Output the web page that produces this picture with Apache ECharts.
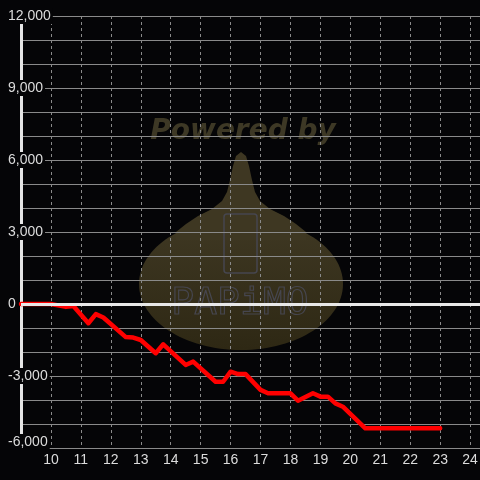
<!DOCTYPE html>
<html>
<head>
<meta charset="utf-8">
<script src="https://cdn.jsdelivr.net/npm/echarts@6/dist/echarts.min.js"></script>
<style>
html,body{margin:0;padding:0;background:#050507;}
#chart{width:480px;height:480px;}
</style>
</head>
<body>
<div id="chart"></div>
<script>
// Data (hours of day vs cumulative value)
const times  = [9, 10, 10.5, 10.75, 11.25, 11.5, 11.75, 12.5, 12.75, 13, 13.5, 13.75, 14.5, 14.75, 15.5, 15.75, 16, 16.25, 16.5, 17, 17.25, 18, 18.25, 18.75, 19, 19.25, 19.5, 19.75, 20.5, 23];
const values = [0, 0, -120, -80, -800, -420, -560, -1380, -1400, -1500, -2050, -1680, -2540, -2400, -3240, -3240, -2820, -2920, -2920, -3580, -3720, -3720, -4030, -3720, -3860, -3860, -4140, -4280, -5180, -5180];
const xTickLabels = [10, 11, 12, 13, 14, 15, 16, 17, 18, 19, 20, 21, 22, 23, 24];
const yTickLabels = [-6000, -3000, 0, 3000, 6000, 9000, 12000];
const watermarkTitle = 'Powered by';
const watermarkBrand = 'PAPiMO';

const seriesData = times.map((t, i) => [t, values[i]]);
const fmt = v => v.toLocaleString('en-US');

const chart = echarts.init(document.getElementById('chart'), null, {renderer: 'canvas'});
const wmFill = new echarts.graphic.LinearGradient(0, 0, 0, 1, [
  {offset: 0, color: '#3f3823'},
  {offset: 1, color: '#2e2814'}
]);
const neck = [[241,152],[236,156],[233,166],[230,180],[227,192],[222,201],[212,209],[198,216],[186,224],[176,232],[176,240],[306,240],[306,232],[296,224],[284,216],[270,209],[260,201],[255,192],[252,180],[249,166],[246,156]];
const option = {
  backgroundColor: '#050507',
  animation: false,
  grid: {left: 21, right: 0, top: 16, bottom: 32, outerBoundsMode: 'none', containLabel: false},
  graphic: [
    {type: 'text', z: -1, silent: true, style: {text: watermarkTitle, x: 243, y: 132, font: 'italic bold 28px "DejaVu Sans"', fill: '#3d3825', align: 'center', verticalAlign: 'middle'}},
    {type: 'ellipse', z: -1, silent: true, shape: {cx: 241, cy: 284, rx: 102, ry: 66}, style: {fill: wmFill}},
    {type: 'polygon', z: -1, silent: true, shape: {points: neck}, style: {fill: '#3e3722'}},
    {type: 'rect', z: -1, silent: true, shape: {x: 224, y: 214, width: 33, height: 59, r: 3}, style: {fill: 'none', stroke: '#46464f', lineWidth: 1.5}},
    {type: 'text', z: -1, silent: true, style: {text: watermarkBrand, x: 240, y: 304, font: '38px "DejaVu Sans Mono"', fill: 'none', stroke: '#46464f', lineWidth: 1.2, align: 'center', verticalAlign: 'middle'}}
  ],
  xAxis: {
    type: 'value',
    min: 9,
    max: 24.33,
    interval: 1,
    axisLine: {show: false},
    axisTick: {show: false},
    axisLabel: {
      color: '#dcdcdc', fontSize: 14, fontFamily: 'Liberation Sans', margin: 5,
      showMinLabel: false, showMaxLabel: true,
      formatter: v => xTickLabels.includes(v) ? String(v) : ''
    },
    splitLine: {show: true, lineStyle: {color: '#8a8a8a', width: 1, type: [3, 3]}}
  },
  yAxis: {
    type: 'value',
    min: -6000,
    max: 12000,
    interval: 3000,
    axisLine: {show: true, onZero: false, lineStyle: {color: '#e6e6e6', width: 3}},
    axisTick: {show: false},
    minorTick: {show: false, splitNumber: 3},
    axisLabel: {
      color: '#dcdcdc', fontSize: 14, fontFamily: 'Liberation Sans',
      align: 'left', margin: 15,
      backgroundColor: '#050507', padding: [1, 2],
      formatter: v => {
        if (!yTickLabels.includes(v)) return '';
        return v === -6000 ? '{m|' + fmt(v) + '}' : fmt(v);
      },
      rich: {m: {color: '#dcdcdc', fontSize: 14, fontFamily: 'Liberation Sans', padding: [0, 0, 12, 0]}}
    },
    splitLine: {show: true, lineStyle: {color: '#8a8a8a', width: 1}},
    minorSplitLine: {show: true, lineStyle: {color: '#8a8a8a', width: 1}}
  },
  series: [
    {
      type: 'line', data: [], z: 1, silent: true,
      markLine: {silent: true, symbol: 'none', label: {show: false},
        lineStyle: {color: '#e8e8e8', width: 3, type: 'solid'},
        emphasis: {disabled: true},
        data: [{yAxis: 0}]}
    },
    {
      type: 'line', data: seriesData, z: 3,
      showSymbol: false, symbol: 'none',
      lineStyle: {color: '#ff0000', width: 4.5, join: 'round', cap: 'round'},
      itemStyle: {color: '#ff0000'}
    }
  ]
};
chart.setOption(option);
</script>
</body>
</html>
